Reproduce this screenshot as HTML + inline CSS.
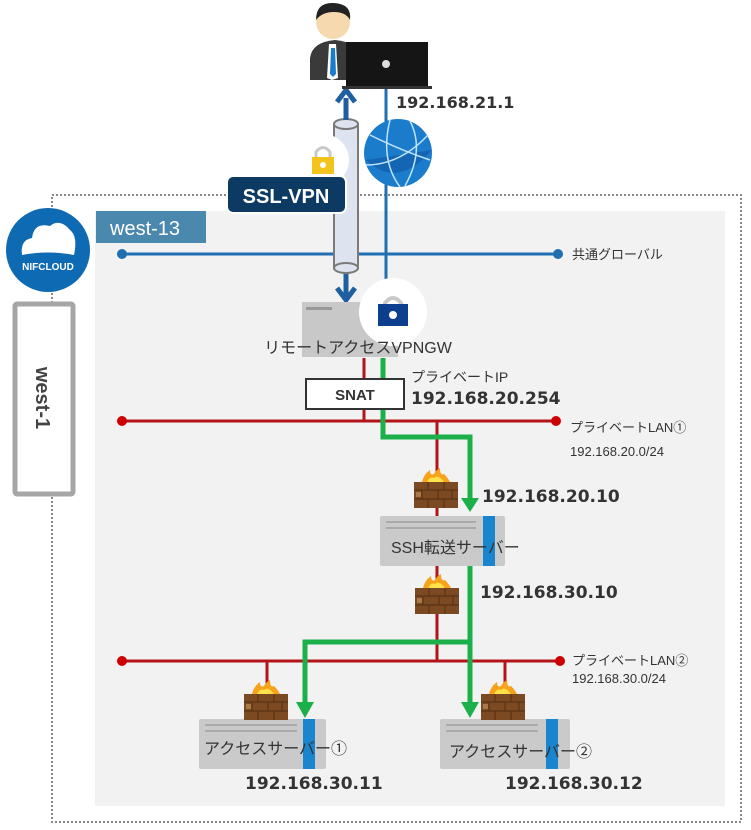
<!DOCTYPE html>
<html><head><meta charset="utf-8"><style>
html,body{margin:0;padding:0;background:#fff;}
svg{display:block;font-family:"Liberation Sans","Noto Sans CJK JP",sans-serif;}
.b{font-weight:bold;font-family:"DejaVu Sans","Liberation Sans",sans-serif;fill:#333;}
</style></head><body>
<svg width="751" height="830" viewBox="0 0 751 830" xmlns="http://www.w3.org/2000/svg">
<defs>
<g id="fw">
<path d="M8 12 Q10 4 16 0 Q16 6 20 4 Q22 0 26 -2 Q26 6 30 4 Q34 8 36 12 Z" fill="#f7a21b"/>
<path d="M13 12 Q16 6 20 8 Q24 4 30 12 Z" fill="#ffe14a"/>
<rect x="0" y="12" width="44" height="26" fill="#7b4a22"/>
<g stroke="#5a3314" stroke-width="1.2">
<line x1="0" y1="20" x2="44" y2="20"/><line x1="0" y1="29" x2="44" y2="29"/>
<line x1="14" y1="12" x2="14" y2="20"/><line x1="30" y1="12" x2="30" y2="20"/>
<line x1="8" y1="20" x2="8" y2="29"/><line x1="24" y1="20" x2="24" y2="29"/><line x1="38" y1="20" x2="38" y2="29"/>
<line x1="14" y1="29" x2="14" y2="38"/><line x1="30" y1="29" x2="30" y2="38"/>
</g>
<rect x="2" y="22" width="5" height="5" fill="#a87a4a"/>
</g>
</defs>
<rect x="52" y="195" width="689" height="627" fill="none" stroke="#888" stroke-width="2" stroke-dasharray="2,2"/>
<rect x="95" y="211" width="630" height="595" fill="#f2f2f2"/>
<rect x="96" y="211" width="110" height="32" fill="#4a88ae"/>
<text x="110" y="235" font-size="20" fill="#fff">west-13</text>
<circle cx="48" cy="250" r="42" fill="#0f6ab4"/>
<path d="M22 255 Q20 240 32 238 Q34 222 50 226 Q60 218 70 230 Q78 236 74 255 Q48 250 22 255 Z" fill="#fff"/>
<text x="48" y="270" font-size="10" font-weight="bold" fill="#fff" text-anchor="middle">NIFCLOUD</text>
<rect x="15" y="304" width="58" height="190" fill="#fff" stroke="#a6a6a6" stroke-width="5" rx="2"/>
<text transform="translate(36,398) rotate(90)" font-size="20" font-weight="bold" fill="#444" text-anchor="middle">west-1</text>
<line x1="122" y1="254" x2="558" y2="254" stroke="#1f6fb2" stroke-width="3"/>
<circle cx="122" cy="254" r="5" fill="#1f6fb2"/><circle cx="558" cy="254" r="5" fill="#1f6fb2"/>
<text x="572" y="259" font-size="13" fill="#333">共通グローバル</text>
<line x1="386" y1="88" x2="386" y2="290" stroke="#1f6fb2" stroke-width="3"/>
<circle cx="398" cy="153" r="34" fill="#1c7ccc"/>
<path d="M366 160 Q398 190 432 150" fill="#1466b4"/>
<g stroke="#bfe4ff" stroke-width="1.5" fill="none">
<path d="M370 135 Q400 150 430 160"/><path d="M366 165 Q400 165 428 135"/><path d="M390 120 Q380 160 400 187"/><path d="M410 121 Q425 150 405 186"/>
</g>
<rect x="334" y="124" width="24" height="144" fill="#dde3ef" stroke="#7a7a7a" stroke-width="2"/>
<ellipse cx="346" cy="124" rx="12" ry="5" fill="#dde3ef" stroke="#7a7a7a" stroke-width="2"/>
<ellipse cx="346" cy="268" rx="12" ry="5" fill="#dde3ef" stroke="#7a7a7a" stroke-width="2"/>
<line x1="346" y1="98" x2="346" y2="120" stroke="#1f5fa0" stroke-width="5"/>
<path d="M337 102 L346 90 L355 102" fill="none" stroke="#1f5fa0" stroke-width="5"/>
<line x1="346" y1="274" x2="346" y2="296" stroke="#1f5fa0" stroke-width="5"/>
<path d="M337 288 L346 300 L355 288" fill="none" stroke="#1f5fa0" stroke-width="5"/>
<circle cx="323" cy="160" r="26" fill="#fff"/>
<path d="M316 158 V152 Q323 143 330 152 V158" fill="none" stroke="#c9c9c9" stroke-width="3"/>
<rect x="312" y="157" width="22" height="17" fill="#f3c51c"/>
<circle cx="323" cy="165" r="3" fill="#fff"/>
<rect x="227" y="176" width="119" height="37" rx="6" fill="#0d3a63" stroke="#fff" stroke-width="2"/>
<text x="286" y="203" font-size="20" font-weight="bold" fill="#fff" text-anchor="middle">SSL-VPN</text>
<path d="M310 58 Q312 42 335 40 Q358 42 358 58 V80 H310 Z" fill="#3a3a3a"/>
<path d="M329 44 L336 44 L338 78 L332 80 L327 78 Z" fill="#fff"/><path d="M331 48 H335 L336 74 L333 77 L330 74 Z" fill="#1c7ccc"/>
<circle cx="333" cy="22" r="17" fill="#f7d9b0"/>
<path d="M316 20 Q316 2 334 3 Q352 4 350 20 Q346 12 334 12 Q322 12 316 20 Z" fill="#222"/>
<rect x="346" y="42" width="82" height="44" fill="#151515"/>
<rect x="342" y="86" width="90" height="3" fill="#333"/>
<circle cx="386" cy="64" r="4" fill="#ddd"/>
<text x="396" y="108" font-size="16" class="b">192.168.21.1</text>
<rect x="302" y="302" width="96" height="55" fill="#c8c8c8"/>
<rect x="306" y="307" width="26" height="3" fill="#999"/>
<circle cx="393" cy="312" r="34" fill="#fff"/>
<path d="M385 310 V303 Q393 293 401 303 V310" fill="none" stroke="#c9c9c9" stroke-width="4"/>
<rect x="378" y="304" width="30" height="22" fill="#0d3f8f"/>
<circle cx="393" cy="315" r="4" fill="#fff"/>
<text x="358" y="353" font-size="16" fill="#333" text-anchor="middle">リモートアクセスVPNGW</text>
<g stroke="#b3141a" stroke-width="3">
<line x1="122" y1="421" x2="556" y2="421"/>
<line x1="122" y1="661" x2="560" y2="661"/>
<line x1="364" y1="358" x2="364" y2="421"/>
<line x1="437" y1="421" x2="437" y2="516"/>
<line x1="437" y1="566" x2="437" y2="661"/>
<line x1="267" y1="661" x2="267" y2="700"/>
<line x1="505" y1="661" x2="505" y2="700"/>
</g>
<circle cx="122" cy="421" r="5" fill="#c00"/><circle cx="556" cy="421" r="5" fill="#c00"/>
<circle cx="122" cy="661" r="5" fill="#c00"/><circle cx="560" cy="661" r="5" fill="#c00"/>
<text x="570" y="432" font-size="13" fill="#333">プライベートLAN①</text>
<text x="570" y="456" font-size="13" fill="#333">192.168.20.0/24</text>
<text x="572" y="665" font-size="13" fill="#333">プライベートLAN②</text>
<text x="572" y="683" font-size="13" fill="#333">192.168.30.0/24</text>
<g stroke="#1cb04a" stroke-width="5" fill="none">
<polyline points="383,358 383,437 470,437 470,500"/>
<polyline points="470,566 470,642 305,642 305,704"/>
<line x1="470" y1="640" x2="470" y2="704"/>
</g>
<path d="M461 498 L479 498 L470 512 Z" fill="#1cb04a"/>
<path d="M296 702 L314 702 L305 718 Z" fill="#1cb04a"/>
<path d="M461 702 L479 702 L470 718 Z" fill="#1cb04a"/>
<rect x="306" y="379" width="98" height="30" fill="#fff" stroke="#333" stroke-width="2"/>
<text x="355" y="400" font-size="15" font-weight="bold" fill="#333" text-anchor="middle">SNAT</text>
<text x="411" y="382" font-size="14" fill="#333">プライベートIP</text>
<text x="411" y="404" font-size="17" class="b">192.168.20.254</text>
<rect x="380" y="516" width="125" height="50" rx="2" fill="#cacaca"/>
<rect x="386" y="521" width="90" height="2" fill="#aaa"/><rect x="386" y="527" width="90" height="2" fill="#aaa"/>
<rect x="483" y="516" width="12" height="50" fill="#1a85cf"/>
<text x="391" y="553" font-size="16" fill="#333">SSH転送サーバー</text>
<use href="#fw" x="414" y="470"/>
<use href="#fw" x="415" y="576"/>
<text x="482" y="502" font-size="17" class="b">192.168.20.10</text>
<text x="480" y="598" font-size="17" class="b">192.168.30.10</text>
<rect x="199" y="719" width="127" height="50" rx="2" fill="#cacaca"/>
<rect x="205" y="724" width="92" height="2" fill="#aaa"/><rect x="205" y="730" width="92" height="2" fill="#aaa"/>
<rect x="303" y="719" width="12" height="50" fill="#1a85cf"/>
<text x="204" y="754" font-size="16" fill="#333">アクセスサーバー①</text>
<use href="#fw" x="244" y="682"/>
<rect x="440" y="719" width="130" height="50" rx="2" fill="#cacaca"/>
<rect x="446" y="724" width="92" height="2" fill="#aaa"/><rect x="446" y="730" width="92" height="2" fill="#aaa"/>
<rect x="546" y="719" width="12" height="50" fill="#1a85cf"/>
<text x="449" y="757" font-size="16" fill="#333">アクセスサーバー②</text>
<use href="#fw" x="481" y="682"/>
<text x="245" y="789" font-size="17" class="b">192.168.30.11</text>
<text x="505" y="789" font-size="17" class="b">192.168.30.12</text>
</svg>
</body></html>
